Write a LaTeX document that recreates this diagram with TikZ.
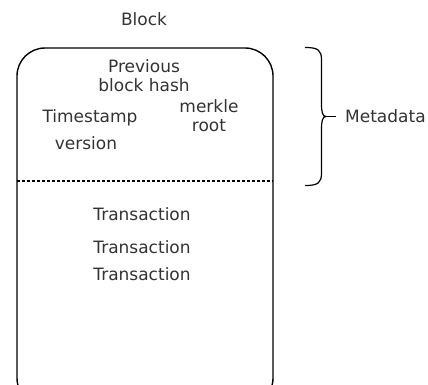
\documentclass[tikz,border=0pt]{standalone}
\usepackage{fontspec}
\setmainfont{DejaVu Sans}
\begin{document}
\begin{tikzpicture}[x=1pt,y=-1pt,
  lbl/.style={text=black!80, font=\fontsize{17}{19.2}\selectfont, inner sep=0pt, align=center},
  boxline/.style={draw=black, line width=1.4pt},
  sep/.style={draw=black, line width=1.2pt, dash pattern=on 3pt off 2pt},
  bracel/.style={draw=black, line width=1.2pt}]
\useasboundingbox (0,0) rectangle (428,385);
\clip (0,0) rectangle (428,385);
\fill[white] (0,0) rectangle (428,385);
% block box
\node[boxline, rounded corners=28pt, minimum width=256pt, minimum height=358pt, inner sep=0pt] (blk) at (145,227) {};
\coordinate (dl) at (17,181);
\coordinate (dr) at (273,181);
\draw[sep] (dl) -- (dr);
% labels
\node[lbl, anchor=base] (title) at (144,25.7) {Block};
\node[lbl] (prev) at (144,75.8) {Previous\\block hash};
\node[lbl, anchor=base] (ts) at (90,123) {Timestamp};
\node[lbl, anchor=base] (ver) at (86,149) {version};
\node[lbl] (mr) at (209,116) {merkle\\root};
\node[lbl, anchor=base] (t1) at (142,220.5) {Transaction};
\node[lbl, anchor=base] (t2) at (142,253) {Transaction};
\node[lbl, anchor=base] (t3) at (142,280) {Transaction};
\node[lbl, anchor=base west] (meta) at (345,122.3) {Metadata};
% brace
\coordinate (bt) at (305,47.5);
\coordinate (bb) at (305,185.5);
\coordinate (bm) at (326,116.5);
\coordinate (be) at (336,116.5);
\draw[bracel] (bt) .. controls (318,47.5) and (321.5,50) .. (321.5,60)
  -- (321.5,104) .. controls (321.5,112) and (322.5,116.5) .. (bm)
  .. controls (322.5,116.5) and (321.5,121) .. (321.5,129)
  -- (321.5,173) .. controls (321.5,183) and (318,185.5) .. (bb);
\draw[bracel] (bm) -- (be);
\end{tikzpicture}
\end{document}
